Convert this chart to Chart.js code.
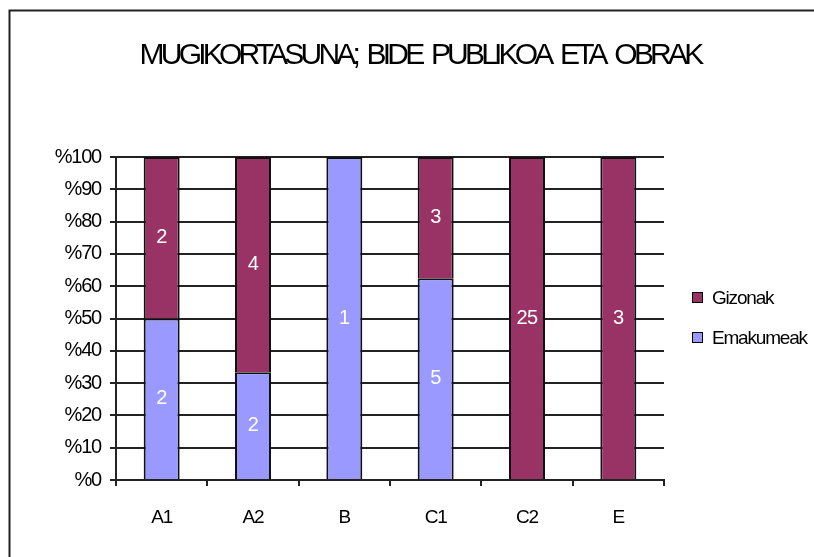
<!DOCTYPE html>
<html>
<head>
<meta charset="utf-8">
<script src="https://cdn.jsdelivr.net/npm/chart.js@4.4.1/dist/chart.umd.min.js"></script>
<style>
  html, body { margin: 0; padding: 0; background: #fff; }
  canvas { display: block; }
</style>
</head>
<body>
<canvas id="barChart" width="814" height="557"></canvas>
<script>
// data
var chartTitle = 'MUGIKORTASUNA; BIDE PUBLIKOA ETA OBRAK';
var categories = ['A1', 'A2', 'B', 'C1', 'C2', 'E'];
var seriesNames = ['Emakumeak', 'Gizonak'];
var emakumeak = [2, 2, 1, 5, 0, 0];
var gizonak = [2, 4, 0, 3, 25, 3];
var yTickValues = [0, 10, 20, 30, 40, 50, 60, 70, 80, 90, 100];
var colors = ['#9999FF', '#993366'];

var FONT = 'Liberation Sans, Arial, sans-serif';
Chart.defaults.font.family = FONT;
Chart.defaults.color = '#000';

// 100% stacked: share of each column total
function share(a, b) {
  return a.map(function (v, i) { return v / (v + b[i]) * 100; });
}
var counts = [emakumeak, gizonak];

var decor = {
  id: 'decor',
  beforeDraw: function (chart) {
    var ctx = chart.ctx;
    ctx.save();
    ctx.fillStyle = '#fff';
    ctx.fillRect(0, 0, chart.width, chart.height);
    ctx.restore();
    ctx.letterSpacing = '-1.2px';
  },
  afterDatasetsDraw: function (chart) {
    var ctx = chart.ctx;
    ctx.save();
    ctx.font = '20px ' + FONT;
    ctx.letterSpacing = '-0.5px';
    ctx.fillStyle = '#fff';
    ctx.textAlign = 'center';
    ctx.textBaseline = 'middle';
    chart.data.datasets.forEach(function (ds, di) {
      chart.getDatasetMeta(di).data.forEach(function (bar, i) {
        var n = counts[di][i];
        if (!n) return;
        var c = bar.getCenterPoint();
        ctx.fillText(String(n), c.x, c.y);
      });
    });
    ctx.restore();
  },
  afterDraw: function (chart) {
    var ctx = chart.ctx;
    ctx.save();
    // outer frame
    ctx.strokeStyle = '#222';
    ctx.lineWidth = 2;
    ctx.strokeRect(9.5, 10.5, 1000, 1000);
    // title
    ctx.fillStyle = '#000';
    ctx.font = '30px ' + FONT;
    ctx.letterSpacing = '-3.8px';
    ctx.wordSpacing = '5px';
    ctx.textAlign = 'center';
    ctx.textBaseline = 'middle';
    ctx.fillText(chartTitle, 420, 56);
    ctx.wordSpacing = '0px';
    // legend, top item is the top of the stack
    ctx.font = '19px ' + FONT;
    ctx.letterSpacing = '-1.2px';
    ctx.textAlign = 'left';
    var rows = [1, 0];
    rows.forEach(function (di, k) {
      var y = 298 + k * 40;
      ctx.fillStyle = colors[di];
      ctx.fillRect(692, y - 6, 11, 11);
      ctx.strokeStyle = '#000';
      ctx.lineWidth = 1;
      ctx.strokeRect(692.5, y - 5.5, 10, 10);
      ctx.fillStyle = '#000';
      ctx.fillText(seriesNames[di], 712, y + 1);
    });
    ctx.restore();
  }
};

new Chart(document.getElementById('barChart').getContext('2d'), {
  type: 'bar',
  data: {
    labels: categories,
    datasets: [
      {
        label: seriesNames[0],
        data: share(emakumeak, gizonak),
        backgroundColor: colors[0],
        borderColor: '#111',
        borderWidth: 2
      },
      {
        label: seriesNames[1],
        data: share(gizonak, emakumeak),
        backgroundColor: colors[1],
        borderColor: '#111',
        borderWidth: 2
      }
    ]
  },
  options: {
    responsive: false,
    animation: false,
    events: [],
    barPercentage: 0.394,
    categoryPercentage: 1,
    layout: { padding: { top: 157, right: 150, bottom: 0, left: 0 } },
    plugins: {
      legend: { display: false },
      title: { display: false },
      tooltip: { enabled: false }
    },
    scales: {
      x: {
        stacked: true,
        afterFit: function (s) { s.height = 77; },
        grid: {
          offset: true,
          drawOnChartArea: false,
          drawTicks: true,
          tickLength: 6,
          color: '#222',
          lineWidth: 2
        },
        border: { color: '#222', width: 2 },
        ticks: { font: { size: 19 }, padding: 20, color: '#000' }
      },
      y: {
        stacked: true,
        min: 0,
        max: 100,
        afterFit: function (s) { s.width = 116; },
        afterBuildTicks: function (s) {
          s.ticks = yTickValues.map(function (v) { return { value: v }; });
        },
        grid: { color: '#222', lineWidth: 2, tickLength: 6 },
        border: { color: '#222', width: 2 },
        ticks: {
          font: { size: 20 },
          padding: 9,
          color: '#000',
          callback: function (v) { return '%' + v; }
        }
      }
    }
  },
  plugins: [decor]
});
</script>
</body>
</html>
